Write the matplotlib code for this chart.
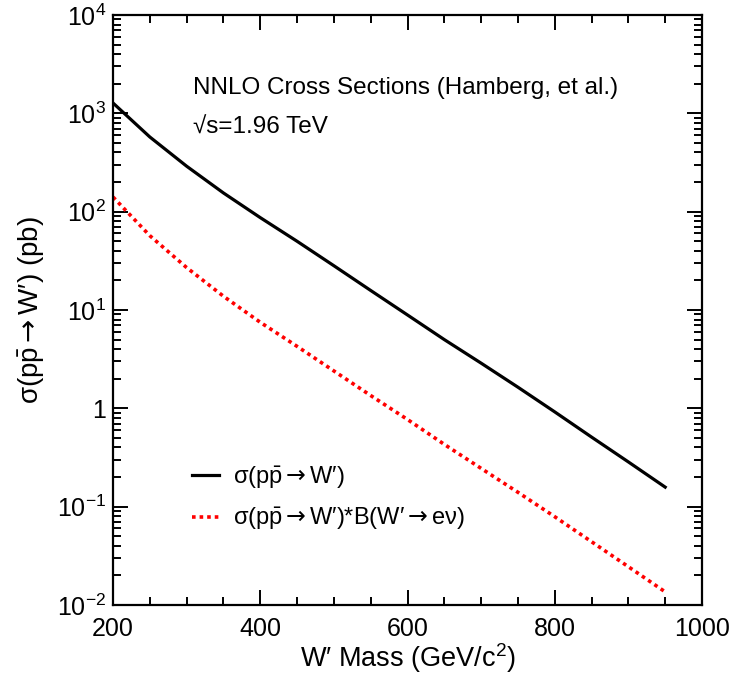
import matplotlib
matplotlib.use("Agg")
import matplotlib.pyplot as plt
from matplotlib.ticker import FixedLocator, FuncFormatter, MultipleLocator
import numpy as np

plt.rcParams['font.family'] = ['Liberation Sans', 'DejaVu Sans']
plt.rcParams['mathtext.fontset'] = 'custom'
plt.rcParams['mathtext.rm'] = 'Liberation Sans'
plt.rcParams['mathtext.it'] = 'Liberation Sans'
plt.rcParams['mathtext.sf'] = 'DejaVu Sans'

mass = [200, 250, 300, 350, 400, 450, 500, 550, 600, 650, 700, 750, 800, 850, 900, 950]
sigma = [1274, 575, 290, 155, 87, 50, 28.2, 15.8, 8.9, 5.0, 2.88, 1.64, 0.92, 0.51, 0.285, 0.158]
sigma_br = [141, 57, 27, 13.8, 7.5, 4.27, 2.4, 1.35, 0.77, 0.43, 0.245, 0.14, 0.079, 0.044, 0.0245, 0.0136]

arrow = r'\mathsf{\rightarrow}'
core = r'\sigma(p\bar{p}' + arrow + r'W\prime)'
label_sigma = r'$\mathregular{' + core + r'}$'
label_br = r'$\mathregular{' + core + r'{*}B(W\prime' + arrow + r'e\nu)}$'

fig = plt.figure(figsize=(7.29, 6.77), dpi=100)
ax = fig.add_axes([113/729, 1-605/677, (702-113)/729, (605-15)/677])

ax.plot(mass, sigma, color='black', lw=2.3, label=label_sigma, solid_joinstyle='round')
ax.plot(mass, sigma_br, color='#ff0000', lw=2.6, linestyle=(0, (1, 1.1)), label=label_br)

ax.set_yscale('log')
ax.set_xlim(200, 1000)
ax.set_ylim(1e-2, 1e4)

ax.xaxis.set_major_locator(MultipleLocator(200))
ax.xaxis.set_minor_locator(MultipleLocator(50))
ax.yaxis.set_major_locator(FixedLocator([1e-2, 1e-1, 1, 1e1, 1e2, 1e3, 1e4]))
ax.yaxis.set_minor_locator(FixedLocator([m * 10.0**e for e in range(-2, 4) for m in range(2, 10)]))

def yfmt(v, pos):
    e = int(round(np.log10(v)))
    if e == 0:
        return '1'
    return r'$\mathregular{10^{%d}}$' % e

ax.yaxis.set_major_formatter(FuncFormatter(yfmt))
ax.tick_params(which='both', direction='in', top=True, right=True, width=1.4, labelsize=18, colors='black')
ax.tick_params(which='major', length=11, pad=5)
ax.tick_params(which='minor', length=5.5)
ax.tick_params(axis='x', which='major', pad=9)
for s in ax.spines.values():
    s.set_linewidth(1.6)

ax.set_xlabel(r'W$\prime$ Mass (GeV/c$\mathregular{^2}$)', fontsize=19.5, labelpad=0)
ax.set_ylabel(r'$\mathregular{' + core + r'}$ (pb)', fontsize=20, labelpad=7)

ax.text(193/729, 1-88/677, 'NNLO Cross Sections (Hamberg, et al.)', transform=fig.transFigure,
        fontsize=17.5, va='center', ha='left')
ax.text(193/729, 1-128/677, '\u221as=1.96 TeV', transform=fig.transFigure,
        fontsize=17.5, va='center', ha='left')

leg = ax.legend(loc='lower left', bbox_to_anchor=(0.118, 0.108), frameon=False, fontsize=17,
                handlelength=1.15, handletextpad=0.6, labelspacing=0.62, borderaxespad=0)

fig.savefig('out.png', dpi=100)
